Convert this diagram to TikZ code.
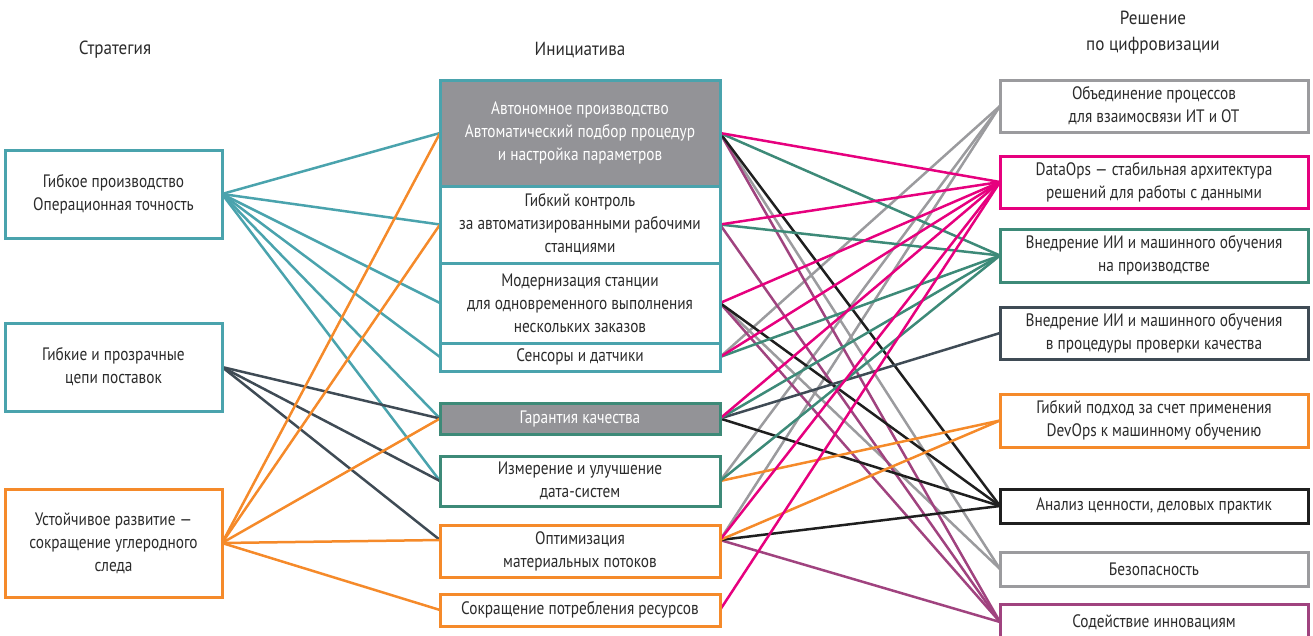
\documentclass[tikz,border=0pt]{standalone}
\usepackage{fontspec}
\setmainfont[FakeStretch=0.85]{PT Sans}
\newfontfamily\headfont[FakeStretch=0.9]{PT Sans}
\definecolor{cteal}{HTML}{4AA3AD}
\definecolor{corange}{HTML}{F58A2A}
\definecolor{cslate}{HTML}{3F4B55}
\definecolor{cgreen}{HTML}{3D8A78}
\definecolor{cpink}{HTML}{E6007E}
\definecolor{cpurple}{HTML}{A0437F}
\definecolor{cgray}{HTML}{9B9B9E}
\definecolor{cblack}{HTML}{1F1F1F}
\definecolor{cfill}{HTML}{939397}
\definecolor{txt}{HTML}{2B2B2B}
\pgfdeclarelayer{bg}
\pgfsetlayers{bg,main}
\begin{document}
\begin{tikzpicture}[x=1pt,y=-1pt,
  box/.style={draw, line width=3pt, fill=white, inner sep=0pt, outer sep=0pt,
    align=center, font=\fontsize{18}{23}\selectfont, text=txt},
  lbox/.style={box, minimum width=217pt},
  mbox/.style={box, minimum width=280pt},
  rbox/.style={box, minimum width=308pt},
  head/.style={font=\headfont\fontsize{19}{26}\selectfont, text=txt, align=center, inner sep=0pt},
  link/.style={line width=2.5pt}]
\useasboundingbox (0,0) rectangle (1313,635);

% headers
\node[head] (h1) at (115,50) {Стратегия};
\node[head] (h2) at (580,50) {Инициатива};
\node[head] (h3) at (1153,33) {Решение\\по цифровизации};

% left column
\node[lbox, draw=cteal, minimum height=88pt] (L1) at (113.5,194) {Гибкое производство\\Операционная точность};
\node[lbox, draw=cteal, minimum height=88pt] (L2) at (113.5,367) {Гибкие и прозрачные\\цепи поставок};
\node[lbox, draw=corange, minimum height=108pt] (L3) at (113.5,543) {Устойчивое развитие —\\сокращение углеродного\\следа};

% middle column
\node[mbox, draw=cteal, fill=cfill, text=white, minimum height=106pt] (M1) at (580,133) {Автономное производство\\Автоматический подбор процедур\\и настройка параметров};
\node[mbox, draw=cteal, minimum height=77pt] (M2) at (580,224.5) {Гибкий контроль\\за автоматизированными рабочими\\станциями};
\node[mbox, draw=cteal, minimum height=80pt] (M3) at (580,303) {Модернизация станции\\для одновременного выполнения\\нескольких заказов};
\node[mbox, draw=cteal, minimum height=28pt] (M4) at (580,357) {Сенсоры и датчики};
\node[mbox, draw=cgreen, fill=cfill, text=white, minimum height=31pt] (M5) at (580,418.5) {Гарантия качества};
\node[mbox, draw=cgreen, minimum height=50pt] (M6) at (580,481) {Измерение и улучшение\\дата-систем};
\node[mbox, draw=corange, minimum height=52pt] (M7) at (580,551) {Оптимизация\\материальных потоков};
\node[mbox, draw=corange, minimum height=32pt] (M8) at (580,610) {Сокращение потребления ресурсов};
\coordinate (M7w) at ([yshift=11pt]M7.west);
\coordinate (M7e) at ([yshift=11pt]M7.east);

% right column
\node[rbox, draw=cgray, minimum height=52pt] (R1) at (1154,106) {Объединение процессов\\для взаимосвязи ИТ и ОТ};
\node[rbox, draw=cpink, minimum height=52pt] (R2) at (1154,182) {DataOps — стабильная архитектура\\решений для работы с данными};
\node[rbox, draw=cgreen, minimum height=53pt] (R3) at (1154,255.5) {Внедрение ИИ и машинного обучения\\на производстве};
\node[rbox, draw=cslate, minimum height=52pt] (R4) at (1154,333) {Внедрение ИИ и машинного обучения\\в процедуры проверки качества};
\node[rbox, draw=corange, minimum height=53pt] (R5) at (1154,420.5) {Гибкий подход за счет применения\\DevOps к машинному обучению};
\node[rbox, draw=cblack, minimum height=34pt] (R6) at (1154,506) {Анализ ценности, деловых практик};
\node[rbox, draw=cgray, minimum height=34pt] (R7) at (1154,569) {Безопасность};
\node[rbox, draw=cpurple, minimum height=36pt] (R8) at (1154,622) {Содействие инновациям};

\begin{pgfonlayer}{bg}
% left to middle
\foreach \m in {M1,M2,M3,M4,M5,M6} \draw[link, cteal] (L1.east) -- (\m.west);
\foreach \m in {M5.west,M6.west,M7w} \draw[link, cslate] (L2.east) -- (\m);
\foreach \m in {M1.west,M2.west,M5.west,M7w,M8.west} \draw[link, corange] (L3.east) -- (\m);
% middle to right
\foreach \m in {M4.east,M6.east,M7e} \draw[link, cgray] (\m) -- (R1.west);
\foreach \m in {M1.east,M3.east} \draw[link, cgray] (\m) -- (R7.west);
\foreach \m in {M1.east,M2.east,M3.east,M7e} \draw[link, cpurple] (\m) -- (R8.west);
\foreach \m in {M1.east,M3.east,M5.east,M7e} \draw[link, cblack] (\m) -- (R6.west);
\foreach \m in {M6.east,M7e} \draw[link, corange] (\m) -- (R5.west);
\draw[link, cslate] (M5.east) -- (R4.west);
\foreach \m in {M1.east,M2.east,M4.east,M5.east,M6.east} \draw[link, cgreen] (\m) -- (R3.west);
\foreach \m in {M1.east,M2.east,M3.east,M4.east,M5.east,M7e,M8.east} \draw[link, cpink] (\m) -- (R2.west);
\end{pgfonlayer}
\end{tikzpicture}
\end{document}
